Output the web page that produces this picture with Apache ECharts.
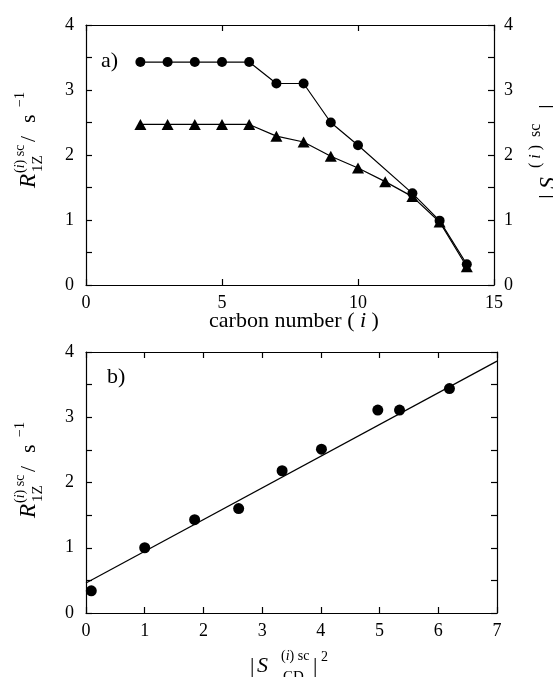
<!DOCTYPE html>
<html>
<head>
<meta charset="utf-8">
<script src="https://cdn.jsdelivr.net/npm/echarts@6/dist/echarts.min.js"></script>
<style>
html, body { margin: 0; padding: 0; background: #fff; }
#main { width: 553px; height: 677px; }
</style>
</head>
<body>
<div id="main"></div>
<script>
// panel a) relaxation rate and order parameter vs carbon number
var carbonNumber = [2, 3, 4, 5, 6, 7, 8, 9, 10, 11, 12, 13, 14];
var rateR1Z = [3.43, 3.43, 3.43, 3.43, 3.43, 3.10, 3.10, 2.50, 2.15, null, 1.41, 0.99, 0.32];
var orderSCD = [2.47, 2.47, 2.47, 2.47, 2.47, 2.29, 2.20, 1.98, 1.80, 1.59, 1.36, 0.97, 0.28];

// panel b) rate vs |S|^2 and linear fit
var sqSCD = [0.09, 1.0, 1.85, 2.6, 3.34, 4.01, 4.97, 5.34, 6.19];
var rateB = [0.34, 1.0, 1.43, 1.6, 2.18, 2.51, 3.11, 3.11, 3.44];
var fitX = [0, 7];
var fitY = [0.46, 3.86];

var serif = '"Liberation Serif", "DejaVu Serif", serif';
var black = '#000';

function pairs(xs, ys) {
  return xs.map(function (x, i) { return [x, ys[i]]; });
}

function txt(x, y, s, size, style, align) {
  return {
    type: 'text', x: x, y: y,
    style: {
      text: s, fontSize: size, fontFamily: serif, fontStyle: style || 'normal',
      fill: black, align: align || 'left', verticalAlign: 'middle',
      rich: { it: { fontStyle: 'italic', fontSize: size, fontFamily: serif, fill: black } }
    }
  };
}

// rotated R_1Z^(i)sc / s^-1 label
function rateTitle(cx, cy) {
  return {
    type: 'group', x: cx, y: cy, rotation: Math.PI / 2,
    children: [
      txt(-48, 0, 'R', 23, 'italic'),
      txt(-32, 9, '1Z', 15),
      txt(-33, -9, '({it|i}) sc', 14),
      txt(-2, 0, '/', 22),
      txt(17, 0, 's', 22),
      txt(33, -9, '\u22121', 14)
    ]
  };
}

function valAxis(opt) {
  var base = {
    type: 'value',
    axisLine: { show: true, onZero: false, lineStyle: { color: black, width: 1.2 } },
    axisTick: { show: true, inside: true, length: 6, lineStyle: { color: black, width: 1.2 } },
    axisLabel: { show: true, color: black, fontFamily: serif, fontSize: 18, margin: 9 },
    splitLine: { show: false }
  };
  for (var k in opt) base[k] = opt[k];
  return base;
}

function intLabel(v) { return v % 1 === 0 ? String(v) : ''; }

var chart = echarts.init(document.getElementById('main'));

var option = {
  backgroundColor: '#fff',
  animation: false,
  grid: [
    { left: 86, right: 59, top: 25, bottom: 392, outerBoundsMode: 'none' },
    { left: 86, right: 56, top: 352, bottom: 64, outerBoundsMode: 'none' }
  ],
  xAxis: [
    valAxis({ gridIndex: 0, position: 'bottom', min: 0, max: 15, interval: 5 }),
    valAxis({ gridIndex: 0, position: 'top', min: 0, max: 15, interval: 5, axisLabel: { show: false } }),
    valAxis({ gridIndex: 1, position: 'bottom', min: 0, max: 7, interval: 1 }),
    valAxis({ gridIndex: 1, position: 'top', min: 0, max: 7, interval: 1, axisLabel: { show: false } })
  ],
  yAxis: [
    valAxis({ gridIndex: 0, position: 'left', min: 0, max: 4, interval: 0.5,
      axisLabel: { color: black, fontFamily: serif, fontSize: 18, margin: 12, formatter: intLabel } }),
    valAxis({ gridIndex: 0, position: 'right', min: 0, max: 4, interval: 0.5,
      axisLabel: { color: black, fontFamily: serif, fontSize: 18, margin: 10, formatter: intLabel } }),
    valAxis({ gridIndex: 1, position: 'left', min: 0, max: 4, interval: 0.5,
      axisLabel: { color: black, fontFamily: serif, fontSize: 18, margin: 12, formatter: intLabel } }),
    valAxis({ gridIndex: 1, position: 'right', min: 0, max: 4, interval: 0.5, axisLabel: { show: false } })
  ],
  series: [
    {
      type: 'line', xAxisIndex: 0, yAxisIndex: 0,
      data: pairs(carbonNumber, rateR1Z), connectNulls: true,
      symbol: 'circle', symbolSize: 10, showAllSymbol: true,
      lineStyle: { color: black, width: 1.2 }, itemStyle: { color: black, opacity: 1 }
    },
    {
      type: 'line', xAxisIndex: 0, yAxisIndex: 1,
      data: pairs(carbonNumber, orderSCD),
      symbol: 'triangle', symbolSize: [12, 11], showAllSymbol: true,
      lineStyle: { color: black, width: 1.2 }, itemStyle: { color: black, opacity: 1 }
    },
    {
      type: 'line', xAxisIndex: 2, yAxisIndex: 2,
      data: pairs(fitX, fitY), symbol: 'none',
      lineStyle: { color: black, width: 1.2 }
    },
    {
      type: 'scatter', xAxisIndex: 2, yAxisIndex: 2,
      data: pairs(sqSCD, rateB),
      symbol: 'circle', symbolSize: 11, itemStyle: { color: black, opacity: 1 }
    }
  ],
  graphic: [
    rateTitle(29, 140),
    rateTitle(29, 470),
    // right axis title, cut at the page edge
    {
      type: 'group', x: 549, y: 152, rotation: Math.PI / 2,
      children: [
        txt(-47, 0, '|', 24),
        txt(-37, 0, 'S', 24, 'italic'),
        txt(-16, -13, '( {it|i} )  sc', 16),
        txt(-16, 13, 'CD', 16),
        txt(43, 0, '|', 24)
      ]
    },
    txt(294, 321, 'carbon number ( {it|i} )', 22, 'normal', 'center'),
    txt(250, 666, '|', 22),
    txt(257, 666, 'S', 22, 'italic'),
    txt(281, 656, '({it|i}) sc', 14),
    txt(283, 677, 'CD', 15),
    txt(313, 666, '|', 22),
    txt(321, 657, '2', 14),
    txt(101, 61, 'a)', 22),
    txt(107, 377, 'b)', 22)
  ]
};

chart.setOption(option);
</script>
</body>
</html>
